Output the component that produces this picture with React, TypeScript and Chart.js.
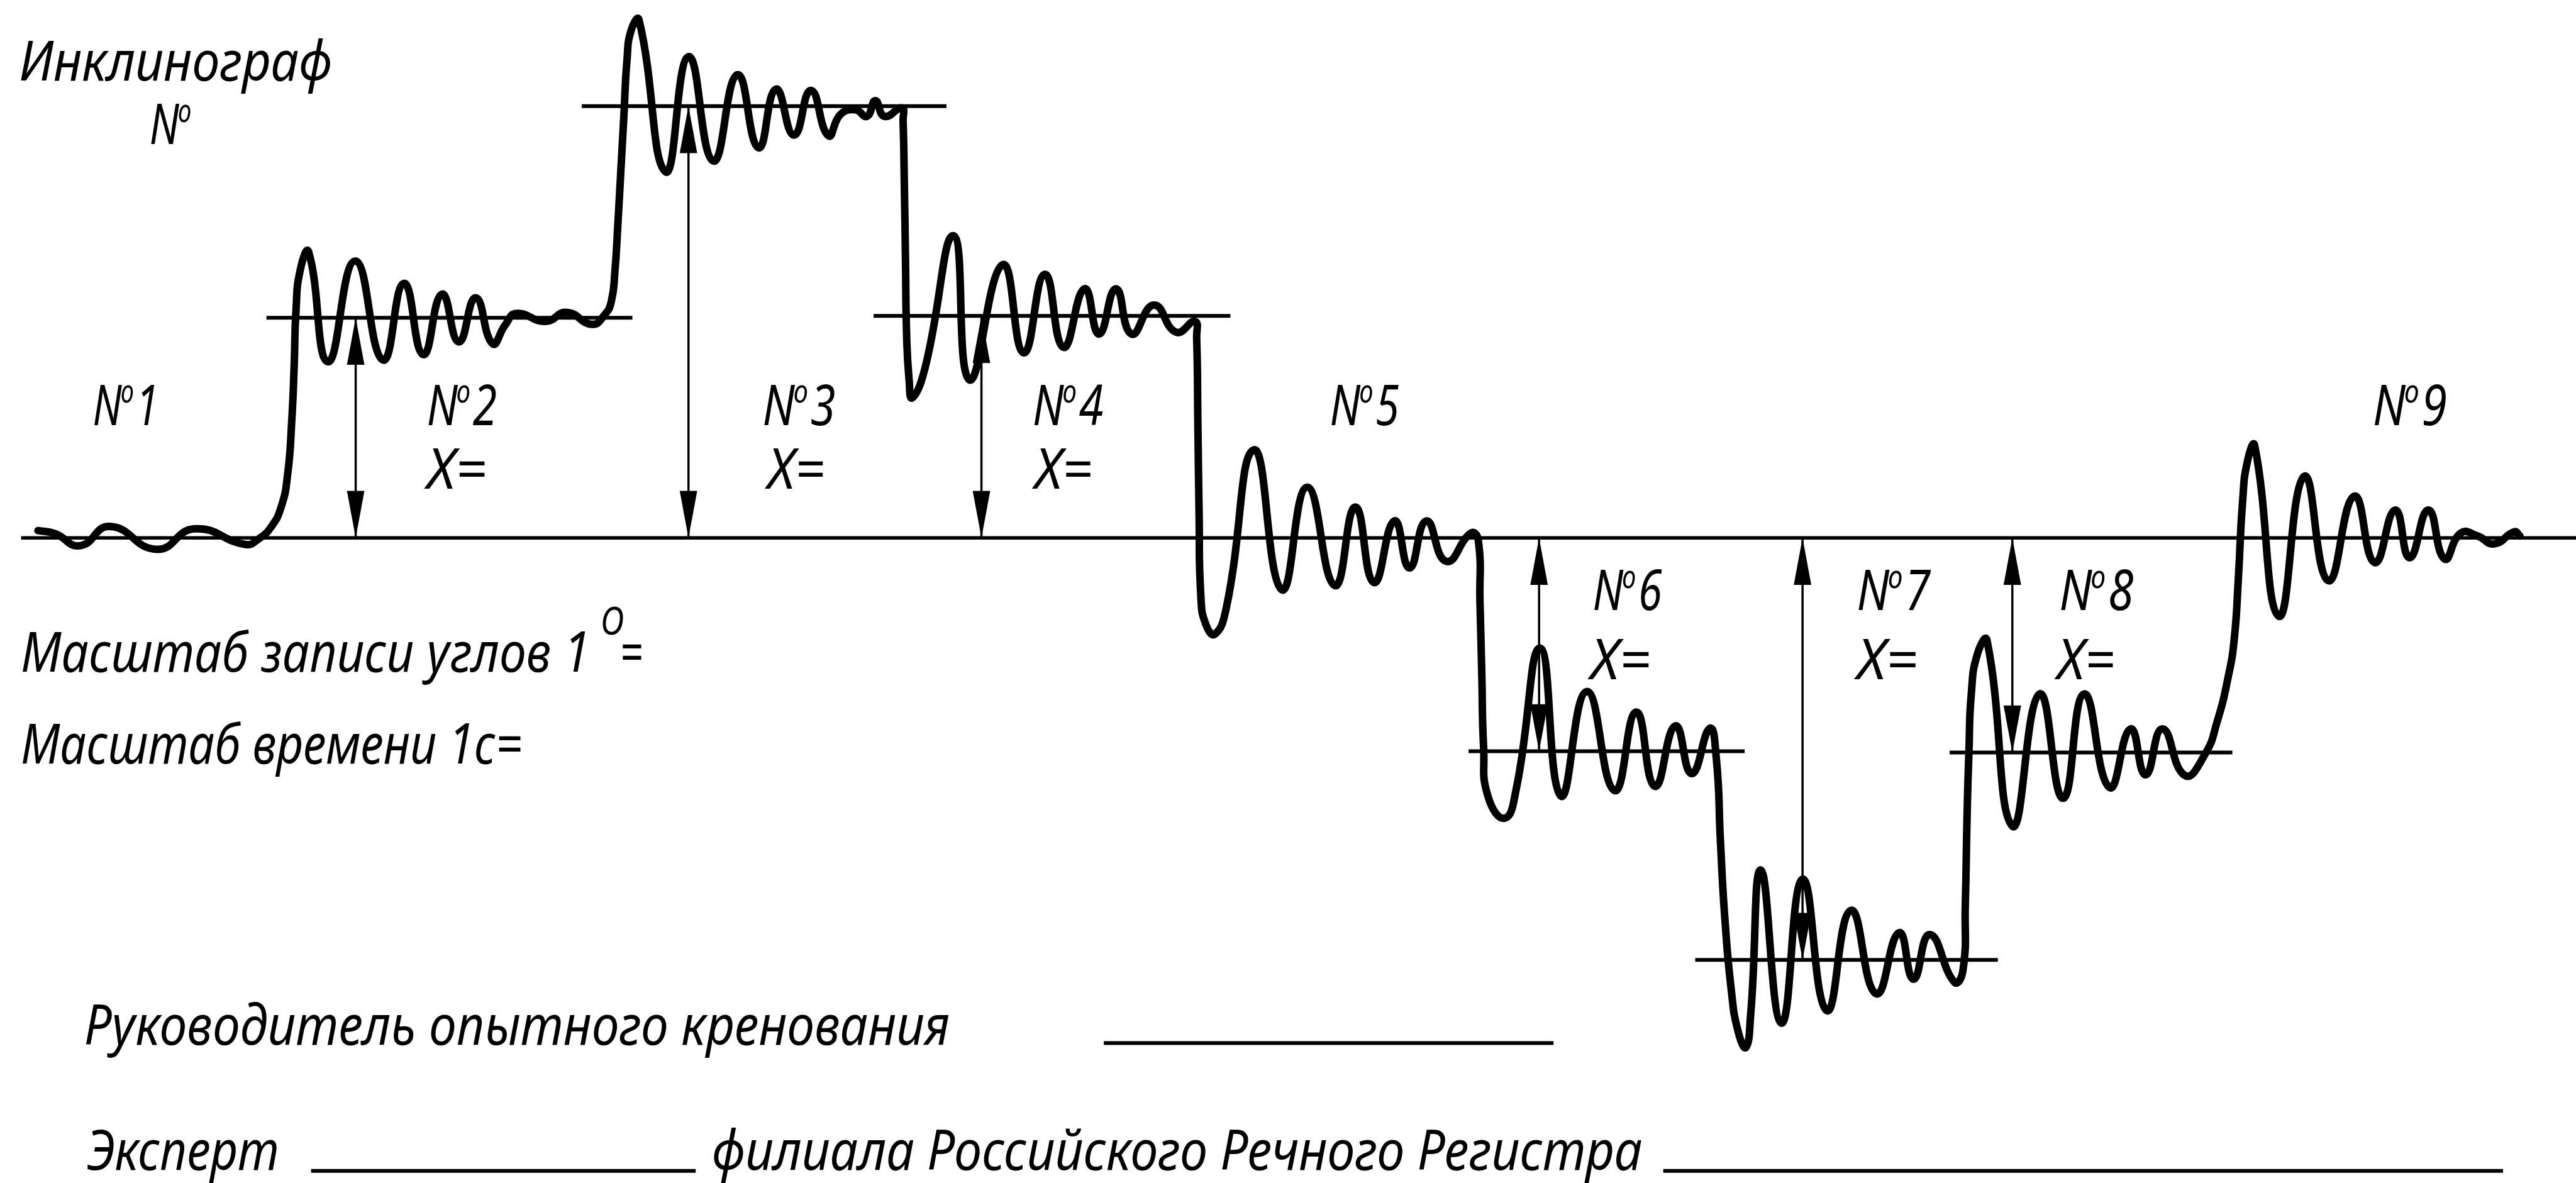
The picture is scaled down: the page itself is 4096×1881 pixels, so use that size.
import { useEffect, useRef } from "react";
import { Chart, registerables } from "chart.js";

Chart.register(...registerables);

// ---- Inclinograph record: tape position (mm) and pen deflection from zero line (mm)
const traceT = [
  6.3, 9.1, 13.3, 18.2, 26.0, 32.3, 40.7, 43.0, 44.9, 46.6, 47.7, 48.4, 48.8, 49.1, 49.8, 51.2,
  54.4, 58.9, 63.5, 67.0, 70.2, 73.3, 76.1, 78.9, 81.7, 83.8, 85.6, 90.5, 94.0, 98.2,
  100.3, 101.4, 102.0, 102.5, 103.0, 103.5, 104.0, 104.7, 106.0,
  110.4, 114.2, 118.3, 122.3, 125.8, 128.7, 131.7, 134.5, 137.4, 139.4, 141.9, 143.8, 145.2, 146.7, 149.6,
  149.8, 150.0, 150.2, 150.4, 150.8, 151.3, 153.4,
  158.2, 160.8, 166.3, 169.8, 173.3, 176.4, 179.9, 182.3, 185.1, 187.7, 191.4, 195.1, 198.2,
  198.5, 198.7, 198.9, 199.2, 200.0, 201.5, 203.4,
  208.0, 212.6, 216.8, 221.4, 224.8, 227.9, 231.3, 233.8, 236.6, 239.9, 244.0,
  245.2, 245.5, 245.8, 246.1, 246.8, 249.6, 251.5,
  255.5, 258.9, 263.2, 267.8, 271.4, 274.5, 277.9, 280.6, 283.6,
  284.7, 285.4, 286.1, 287.2, 288.3, 289.6, 290.4,
  292.1, 295.5, 299.0, 303.0, 307.0, 311.2, 315.0, 317.4, 320.1, 324.2,
  325.6, 326.0, 326.3, 326.6, 327.0, 328.0, 329.6,
  333.8, 338.3, 342.2, 345.7, 349.9, 353.4, 355.9, 358.7, 362.4,
  365.7, 367.8, 369.6, 370.6, 371.3, 372.0, 372.8, 374.0,
  378.0, 382.2, 386.2, 390.5, 393.9, 397.3, 399.7, 402.8, 405.5, 408.2, 411.0, 413.7, 417.1, 418.0,
];
const traceDeflection = [
  1.2, 0.7, -1.3, 1.9, -1.9, 1.5, -1.1, -0.1, 1.7, 5.0, 10.4, 19.5, 28.6, 37.7, 44.4, 47.4,
  29.2, 45.9, 29.5, 42.2, 30.4, 40.4, 32.5, 39.8, 32.2, 35.3, 37.2, 35.9, 37.4, 35.4,
  37.0, 39.2, 44.2, 52.2, 61.2, 70.2, 79.2, 84.2, 85.9,
  60.7, 79.8, 62.5, 76.8, 64.7, 74.4, 66.8, 74.2, 66.7, 70.2, 71.0, 69.9, 72.5, 69.9, 71.3,
  69.2, 59.2, 46.2, 33.2, 26.2, 23.2, 28.0,
  50.1, 26.2, 45.3, 30.7, 43.7, 31.6, 41.3, 33.8, 41.3, 33.8, 38.6, 34.1, 35.9,
  33.2, 19.2, 4.2, -9.8, -14.3, -16.0, -11.7,
  14.6, -8.6, 8.4, -7.9, 5.1, -7.4, 2.8, -5.0, 2.8, -3.9, 0.8,
  -0.3, -10.8, -22.8, -34.8, -42.8, -46.5, -41.7,
  -18.3, -42.8, -25.5, -41.9, -28.9, -41.2, -31.2, -39.1, -31.6,
  -36.6, -50.7, -62.9, -75.2, -81.8, -84.5, -79.0,
  -55.1, -80.5, -56.6, -78.4, -61.8, -75.6, -65.5, -73.2, -65.8, -73.7,
  -71.8, -60.8, -45.8, -35.6, -25.8, -19.3, -17.0,
  -47.8, -25.9, -43.2, -25.9, -41.4, -31.7, -39.3, -31.7, -39.4,
  -36.0, -30.4, -23.1, -16.9, -6.6, 6.1, 12.7, 15.3,
  -13.0, 10.2, -7.1, 6.9, -4.1, 4.6, -3.3, 4.6, -3.5, 0.8, 0.3, -1.0, 1.0, 0.3,
];

// ---- Mean heel lines of the measured positions (deflection, mm) and their extents along the tape
const meanPositions = ["2", "3", "4", "6", "7", "8"];
const meanDeflection = [36.5, 71.6, 36.8, -35.4, -70.0, -35.6];
const meanFrom = [44.2, 96.5, 144.9, 243.6, 281.2, 323.4];
const meanTo = [104.9, 157.0, 204.1, 289.4, 331.4, 370.3];
// where the deflection X of each position is measured
const measureAt = [59.0, 114.2, 162.8, 255.3, 299.0, 333.8];

// zero line of the record
const zeroFrom = 3.5;
const zeroTo = 427.3;

// position numbers written above the record
const positionNumbers = ["1", "2", "3", "4", "5", "6", "7", "8", "9"];

// ---- Axis extents (mm)
const T_MIN = 0;
const T_MAX = 427.3;
const D_MIN = -107.0;
const D_MAX = 89.2;

// ---- Layout of the written text (mm on the record sheet): left edge, baseline, width
const numberLayout = [
  { t: 15.4, v: 18.7, w: 10.9 },
  { t: 70.8, v: 18.7, w: 11.6 },
  { t: 126.5, v: 18.7, w: 12.1 },
  { t: 171.3, v: 18.7, w: 11.7 },
  { t: 220.6, v: 18.7, w: 11.5 },
  { t: 264.2, v: -12.0, w: 11.5 },
  { t: 308.0, v: -12.0, w: 12.2 },
  { t: 341.6, v: -12.0, w: 12.3 },
  { t: 393.6, v: 18.7, w: 12.3 },
];
const xEqLayout = [
  { t: 70.8, v: 8.2, w: 9.9 },
  { t: 127.3, v: 8.2, w: 9.5 },
  { t: 171.6, v: 8.2, w: 9.6 },
  { t: 263.8, v: -23.5, w: 10.0 },
  { t: 308.0, v: -23.5, w: 10.1 },
  { t: 341.2, v: -23.5, w: 9.6 },
];

const FONT = '"Noto Sans", "DejaVu Sans", sans-serif';
const CAP_RATIO = 0.714;
const CAP_MM = 6.6;

type Ctx = CanvasRenderingContext2D;

function fitText(ctx: Ctx, text: string, x: number, y: number, width: number, cap: number) {
  const size = cap / CAP_RATIO;
  ctx.font = `italic 400 ${size}px ${FONT}`;
  const w = ctx.measureText(text).width;
  ctx.save();
  ctx.translate(x, y);
  ctx.scale(width / w, 1);
  ctx.fillText(text, 0, 0);
  ctx.restore();
}

// "N" with a small raised "o", followed by the position number
function drawNumero(ctx: Ctx, num: string, x: number, y: number, width: number, cap: number) {
  const size = cap / CAP_RATIO;
  const small = size * 0.58;
  ctx.font = `italic 400 ${size}px ${FONT}`;
  const wN = ctx.measureText("N").width;
  const wNum = num ? ctx.measureText(num).width : 0;
  ctx.font = `italic 400 ${small}px ${FONT}`;
  const wo = ctx.measureText("o").width;
  const gap = size * 0.02;
  const total = wN + wo + gap + wNum;
  const k = width / total;
  ctx.save();
  ctx.translate(x, y);
  ctx.scale(k, 1);
  ctx.font = `italic 400 ${size}px ${FONT}`;
  ctx.fillText("N", 0, 0);
  if (num) ctx.fillText(num, wN + wo + gap, 0);
  ctx.font = `italic 400 ${small}px ${FONT}`;
  const oBase = -cap + small * 0.54;
  ctx.fillText("o", wN - size * 0.03, oBase);
  ctx.restore();
}

function arrowHead(ctx: Ctx, x: number, tipY: number, dir: number, len: number, half: number) {
  ctx.beginPath();
  ctx.moveTo(x, tipY);
  ctx.lineTo(x - half, tipY - dir * len);
  ctx.lineTo(x + half, tipY - dir * len);
  ctx.closePath();
  ctx.fill();
}

const sheetPlugin = {
  id: "sheet",
  beforeDraw(chart: Chart) {
    const { ctx, width, height } = chart;
    ctx.save();
    ctx.fillStyle = "#fff";
    ctx.fillRect(0, 0, width, height);
    ctx.restore();
  },
  afterDatasetsDraw(chart: Chart) {
    const ctx = chart.ctx;
    const sx = chart.scales.x;
    const sy = chart.scales.y;
    const X = (t: number) => sx.getPixelForValue(t);
    const Y = (v: number) => sy.getPixelForValue(v);
    const mm = Math.abs(Y(0) - Y(1));
    const cap = CAP_MM * mm;

    ctx.save();
    ctx.fillStyle = "#000";
    ctx.strokeStyle = "#000";

    // measured deflection arrows between zero line and the mean line
    ctx.lineWidth = 3.5;
    measureAt.forEach((t, i) => {
      const x = X(t);
      const y0 = Y(0);
      const y1 = Y(meanDeflection[i]);
      ctx.beginPath();
      ctx.moveTo(x, y0);
      ctx.lineTo(x, y1);
      ctx.stroke();
      const dir = y1 < y0 ? -1 : 1;
      arrowHead(ctx, x, y1, dir, 7.8 * mm, 1.45 * mm);
      arrowHead(ctx, x, y0, -dir, 7.8 * mm, 1.45 * mm);
    });

    ctx.textBaseline = "alphabetic";
    ctx.textAlign = "left";

    fitText(ctx, "Инклинограф", X(3.2), Y(75.9), 51.9 * mm, cap);
    drawNumero(ctx, "", X(24.8), Y(65.3), 7.3 * mm, cap);

    positionNumbers.forEach((n, i) => {
      const l = numberLayout[i];
      drawNumero(ctx, n, X(l.t), Y(l.v), l.w * mm, cap);
    });
    xEqLayout.forEach((l) => fitText(ctx, "X=", X(l.t), Y(l.v), l.w * mm, cap));

    fitText(ctx, "Масштаб записи углов 1", X(3.5), Y(-22.2), 94.4 * mm, cap);
    fitText(ctx, "O", X(99.6), Y(-16.0), 3.9 * mm, 4.6 * mm);
    fitText(ctx, "=", X(102.8), Y(-22.2), 3.8 * mm, cap);
    fitText(ctx, "Масштаб времени 1с=", X(3.5), Y(-37.4), 83.1 * mm, cap);

    fitText(ctx, "Руководитель опытного кренования", X(14.0), Y(-84.1), 143.5 * mm, cap);
    fitText(ctx, "Эксперт", X(14.4), Y(-104.8), 31.9 * mm, cap);
    fitText(ctx, "филиала Российского Речного Регистра", X(118.1), Y(-104.8), 154.3 * mm, cap);

    // signature lines
    ctx.lineWidth = 6;
    const sig = [
      [183.1, 257.7, -83.8],
      [51.6, 115.4, -105.0],
      [275.9, 415.2, -105.0],
    ];
    sig.forEach(([a, b, v]) => {
      ctx.beginPath();
      ctx.moveTo(X(a), Y(v));
      ctx.lineTo(X(b), Y(v));
      ctx.stroke();
    });
    ctx.restore();
  },
};

export default function App() {
  const ref = useRef<HTMLCanvasElement>(null);

  useEffect(() => {
    document.body.style.margin = "0";
    const canvas = ref.current;
    if (!canvas) return;

    const trace = traceT.map((t, i) => ({ x: t, y: traceDeflection[i] }));
    const meanSets = meanPositions.map((_, i) => ({
      label: "mean " + meanPositions[i],
      data: [
        { x: meanFrom[i], y: meanDeflection[i] },
        { x: meanTo[i], y: meanDeflection[i] },
      ],
      borderColor: "#000",
      borderWidth: 6,
      pointRadius: 0,
      tension: 0,
      fill: false,
    }));

    const chart = new Chart(canvas, {
      type: "line",
      data: {
        datasets: [
          {
            label: "record",
            data: trace,
            borderColor: "#000",
            borderWidth: 12,
            borderCapStyle: "round",
            borderJoinStyle: "round",
            pointRadius: 0,
            tension: 0.5,
            fill: false,
          },
          {
            label: "zero",
            data: [
              { x: zeroFrom, y: 0 },
              { x: zeroTo, y: 0 },
            ],
            borderColor: "#000",
            borderWidth: 5.5,
            pointRadius: 0,
            tension: 0,
            fill: false,
          },
          ...meanSets,
        ],
      },
      options: {
        animation: false,
        responsive: false,
        devicePixelRatio: 1,
        events: [],
        layout: { padding: 0, autoPadding: false },
        plugins: {
          legend: { display: false },
          tooltip: { enabled: false },
        },
        scales: {
          x: { type: "linear", min: T_MIN, max: T_MAX, display: false },
          y: { type: "linear", min: D_MIN, max: D_MAX, display: false },
        },
      },
      plugins: [sheetPlugin],
    } as any);

    return () => chart.destroy();
  }, []);

  return (
    <div style={{ width: 4096, height: 1881, overflow: "hidden", background: "#fff" }}>
      <canvas ref={ref} width={4096} height={1881} style={{ display: "block", width: 4096, height: 1881 }} />
    </div>
  );
}
